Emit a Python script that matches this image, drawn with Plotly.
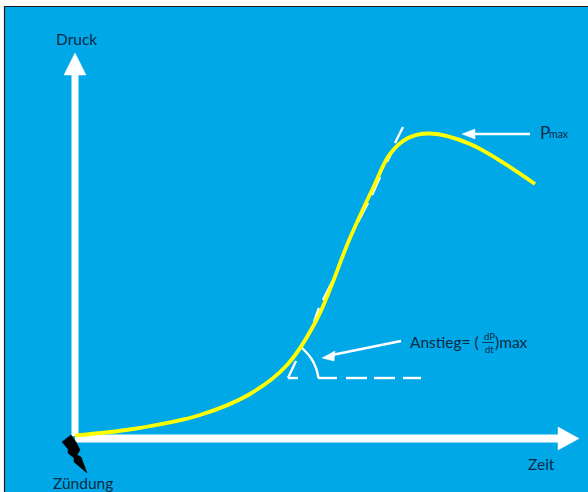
import plotly.graph_objects as go

# Diagram values (axes span the 588x492 canvas)
curve_t = [75, 133, 200, 250, 287, 317, 350, 373, 390, 408, 430, 470, 535]
curve_p = [435.5, 429, 415, 394, 365, 319, 238, 188, 154, 138, 133.5, 144, 184]

y_axis_t = [75, 75]
y_axis_p = [436, 74]
y_head_t = [75, 64, 86, 75]
y_head_p = [53, 75, 75, 53]
x_axis_t = [75, 559]
x_axis_p = [438.5, 438.5]
x_head_t = [579, 558, 558, 579]
x_head_p = [438.5, 427, 450, 438.5]

tangent_t = [403, 395, None, 392, 387, None, 380, 372, None, 368, 358, None, 332, 323, None, 319, 314]
tangent_p = [127, 143, None, 152, 162, None, 177, 195, None, 203, 222, None, 282, 300, None, 308, 322]
base_t = [288, 298, None, 318, 337, None, 346, 367, None, 374, 395, None, 403, 421]
base_p = [378, 378, None, 378, 378, None, 378, 378, None, 378, 378, None, 378, 378]
tick_t = [288, 296]
tick_p = [378, 361]
arc_t = [302, 311, 316, 318.5]
arc_p = [348, 358, 368, 378]

slope_arrow_t = [401, 332]
slope_arrow_p = [341, 355]
slope_head_t = [322, 335, 334, 322]
slope_head_p = [358, 351, 361, 358]
pmax_arrow_t = [530, 472]
pmax_arrow_p = [134, 134]
pmax_head_t = [462, 475, 475, 462]
pmax_head_p = [134, 129, 139, 134]
frac_t = [482, 494]
frac_p = [342.5, 342.5]

spark_t = [71, 62, 68, 68, 74, 74, 87, 81, 77, 80, 76, 71]
spark_p = [435, 442, 449, 453, 458, 462, 473, 457, 455, 450, 442, 435]

INK = "#0b2a45"
WHITE = "#ffffff"
YELLOW = "#ffff00"
BLUE = "#00a8e8"

fig = go.Figure()


def line(x, y, color=WHITE, width=2, shape="linear"):
    fig.add_trace(go.Scatter(x=x, y=y, mode="lines", hoverinfo="skip",
                             line=dict(color=color, width=width, shape=shape)))


def fill(x, y, color=WHITE):
    fig.add_trace(go.Scatter(x=x, y=y, mode="lines", fill="toself", fillcolor=color,
                             hoverinfo="skip", line=dict(color=color, width=0.5)))


line(y_axis_t, y_axis_p, width=7)
fill(y_head_t, y_head_p)
line(x_axis_t, x_axis_p, width=8)
fill(x_head_t, x_head_p)
line(tangent_t, tangent_p, width=2.4)
line(base_t, base_p, width=2.4)
line(tick_t, tick_p, width=2.4)
line(arc_t, arc_p, width=2.4, shape="spline")
line(slope_arrow_t, slope_arrow_p, width=2.4)
fill(slope_head_t, slope_head_p)
line(pmax_arrow_t, pmax_arrow_p, width=2.4)
fill(pmax_head_t, pmax_head_p)
line(curve_t, curve_p, color=YELLOW, width=3.8, shape="spline")
fill(spark_t, spark_p, color="#000000")
line(frac_t, frac_p, color=INK, width=0.8)


def label(x, y, text, size=15.5):
    fig.add_annotation(x=x, y=y, text=text, showarrow=False, xanchor="left", yanchor="middle",
                       xshift=-1, font=dict(family="Lato", size=size, color=INK))


label(55, 39, "Druck")
label(52, 483, "Zündung")
label(527, 464, "Zeit")
label(409, 342, "Anstieg= (")
label(494, 342, ")max")
label(483, 336, "dP", size=9.5)
label(484, 349, "dt", size=9.5)
label(539, 132, "P", size=17)
label(548, 134, "max", size=10.5)

fig.update_layout(
    width=588, height=492, autosize=False, showlegend=False,
    margin=dict(l=0, r=0, t=0, b=0),
    paper_bgcolor=WHITE, plot_bgcolor=WHITE,
    xaxis=dict(range=[0, 588], visible=False, fixedrange=True),
    yaxis=dict(range=[492, 0], visible=False, fixedrange=True),
    shapes=[dict(type="rect", layer="below", x0=4.5, x1=600, y0=6.5, y1=500,
                 fillcolor=BLUE, line=dict(color="#1a1a1a", width=1.2))],
)
fig.write_html("out.html", config={"displayModeBar": False},
               post_script="document.body.style.margin='0';document.documentElement.style.overflow='hidden';")
